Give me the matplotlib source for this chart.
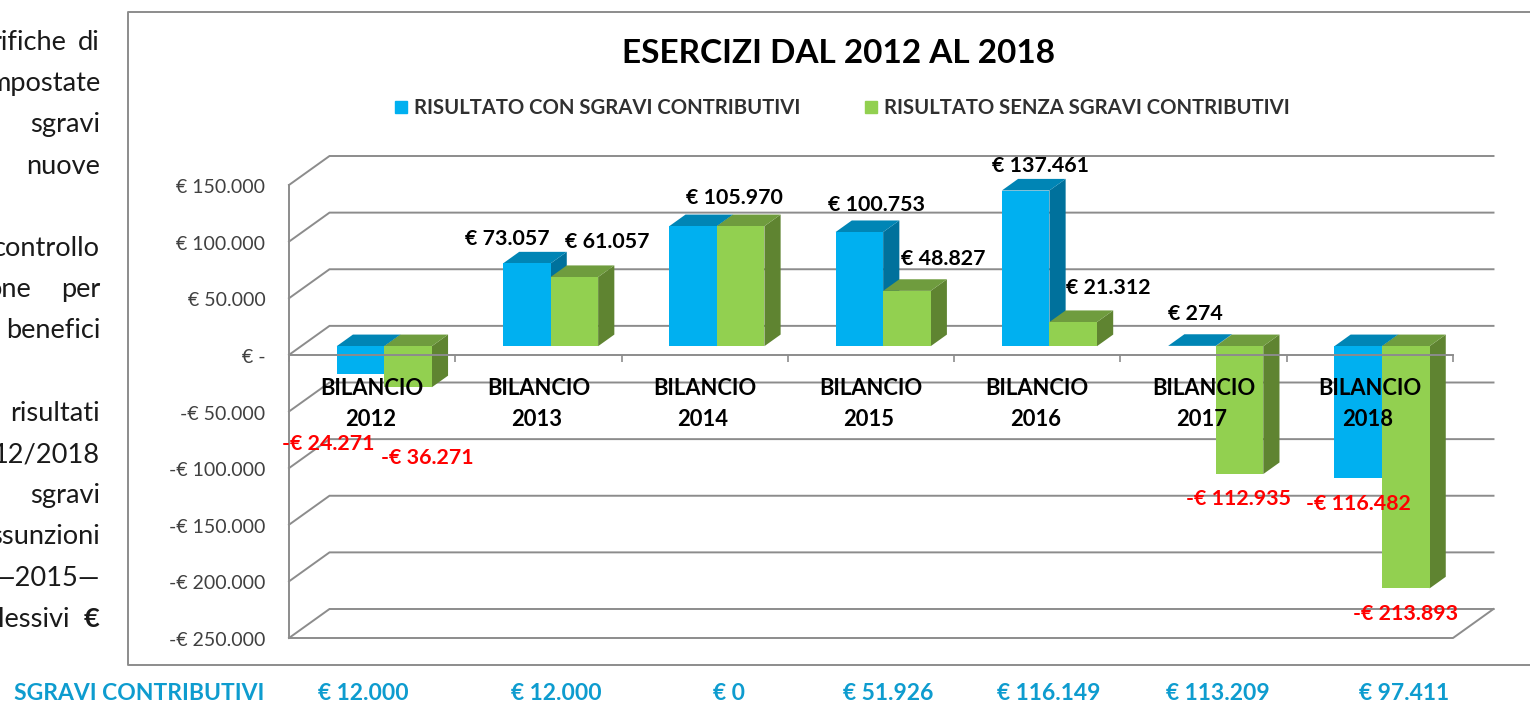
import matplotlib
matplotlib.use('Agg')
import matplotlib.pyplot as plt
from matplotlib.lines import Line2D
from matplotlib.patches import Polygon, Rectangle
from matplotlib.ticker import FuncFormatter
from matplotlib.transforms import ScaledTranslation

plt.rcParams['font.family'] = ['Lato', 'DejaVu Sans']

years = [2012, 2013, 2014, 2015, 2016, 2017, 2018]
con_sgravi = [-24271, 73057, 105970, 100753, 137461, 274, -116482]
senza_sgravi = [-36271, 61057, 105970, 48827, 21312, -112935, -213893]
sgravi = [12000, 12000, 0, 51926, 116149, 113209, 97411]
y_ticks = [150000, 100000, 50000, 0, -50000, -100000, -150000, -200000, -250000]

# testo tagliato a sinistra del grafico: (riga, testo, bordo destro in pixel)
side_text = [(0, 'rifiche', 66), (0, 'di', 100), (1, 'mpostate', 100), (2, 'sgravi', 100), (3, 'nuove', 100),
             (5, 'controllo', 100), (6, 'one', 32), (6, 'per', 100), (7, 'benefici', 100),
             (9, 'risultati', 100), (10, '12/2018', 100), (11, 'sgravi', 100),
             (12, 'ssunzioni', 100), (13, '—2015—', 100), (14, 'lessivi', 69)]

# posizioni (pixel) delle etichette spostate a mano
con_label_px = [(328, 444), (507, 239), (734, 198), (876, 205), (1041, 166), (1195, 314), (1358, 504)]
senza_label_px = [(427, 458), (607, 242), None, (943, 259), (1108, 288), (1239, 499), (1406, 614)]
sgravi_x_px = [363, 556, 729, 888, 1049, 1218, 1404]

W, H = 1530, 703
GRAY = '#8c8c8c'
BLUE = ('#00b0f0', '#0085b5', '#00719c')
GREEN = ('#92d050', '#6f9c3e', '#5f8431')
TEAL = '#0e9ccf'


def fx(x):
    return x / W


def fy(y):
    return 1 - y / H


def euro(v):
    s = f'€ {abs(v):,}'.replace(',', '.')
    return '-' + s if v < 0 else s


def tick_label(v, pos):
    return '€ -' if v == 0 else euro(int(v))


fig = plt.figure(figsize=(W / 100, H / 100), dpi=100)
ax = fig.add_axes([fx(289), fy(638), (1453 - 289) / W, (638 - 185) / H])
ax.set_xlim(0, 7)
ax.set_ylim(-250000, 150000)

# profondita' del pavimento in unita' dati
depth_x = 40.5 / (1164 / 7)
depth_y = 29 / (453 / 400000)

# pareti
for t in y_ticks:
    ax.plot([0, depth_x, 7 + depth_x], [t, t + depth_y, t + depth_y], color=GRAY, lw=1.4,
            zorder=0.5, clip_on=False, solid_joinstyle='miter')
ax.plot([0, 7, 7 + depth_x], [-250000, -250000, -250000 + depth_y], color=GRAY, lw=1.4,
        zorder=0.5, clip_on=False)


def draw_bars(values, left_shift, colors):
    w = 0.286
    for i, v in enumerate(values):
        x0 = i + 0.5 + left_shift + 0.3 * depth_x
        x1 = x0 + w
        bx = 0.4 * depth_x
        by = 0.4 * depth_y
        y0 = 0.3 * depth_y
        top = max(v, 0) + y0
        bot = min(v, 0) + y0
        z = 1 + i * 0.01 + (0.005 if left_shift == 0 else 0)
        ax.add_patch(Polygon([(x1, bot), (x1 + bx, bot + by), (x1 + bx, top + by), (x1, top)],
                             facecolor=colors[2], edgecolor='none', zorder=z, clip_on=False))
        ax.add_patch(Polygon([(x0, top), (x0 + bx, top + by), (x1 + bx, top + by), (x1, top)],
                             facecolor=colors[1], edgecolor='none', zorder=z, clip_on=False))
        ax.bar(x0, v, width=w, bottom=y0, align='edge', color=colors[0], zorder=z, clip_on=False)


draw_bars(con_sgravi, -0.286, BLUE)
draw_bars(senza_sgravi, 0, GREEN)

for side in ['top', 'right']:
    ax.spines[side].set_visible(False)
for side in ['left', 'bottom']:
    ax.spines[side].set_color(GRAY)
    ax.spines[side].set_linewidth(1.4)
    ax.spines[side].set_zorder(3)
ax.spines['bottom'].set_position(('data', 0))
ax.patch.set_alpha(0)

ax.set_yticks(y_ticks)
ax.yaxis.set_major_formatter(FuncFormatter(tick_label))
ax.tick_params(axis='y', length=0, pad=17, labelsize=14, labelcolor='#404040')
down = ScaledTranslation(0, -1 / 100, fig.dpi_scale_trans)
for lab in ax.get_yticklabels():
    lab.set_transform(lab.get_transform() + down)
ax.set_xticks(range(8))
ax.set_xticklabels([])
ax.tick_params(axis='x', length=5, width=1.2, color=GRAY)
ax.set_axisbelow(False)

for i, year in enumerate(years):
    ax.annotate('BILANCIO', (i + 0.5, 0), xytext=(0, -(389 - 355) / 1.39), textcoords='offset points',
                ha='center', va='center', fontsize=15.8, fontweight='bold', color='black', zorder=5)
    ax.annotate(str(year), (i + 0.5, 0), xytext=(-2 / 1.39, -(420 - 355) / 1.39), textcoords='offset points',
                ha='center', va='center', fontsize=15.8, fontweight='bold', color='black', zorder=5)

# etichette dati
for values, positions in [(con_sgravi, con_label_px), (senza_sgravi, senza_label_px)]:
    for v, p in zip(values, positions):
        if p is None:
            continue
        fig.text(fx(p[0]), fy(p[1]), euro(v), ha='center', va='center', fontsize=15.4, fontweight='bold',
                 color='#ff0000' if v < 0 else 'black', zorder=6)

# cornice del grafico
fig.add_artist(Line2D([fx(1535), fx(128), fx(128), fx(1535)], [fy(12), fy(12), fy(665), fy(665)],
                      color=GRAY, lw=1.4))

fig.text(fx(838.5), fy(53.5), 'ESERCIZI DAL 2012 AL 2018', ha='center', va='center', fontsize=24,
         fontweight='bold', color='black')

# legenda
fig.add_artist(Rectangle((fx(395), fy(113)), 12 / W, 12 / H, transform=fig.transFigure, color=BLUE[0]))
fig.add_artist(Rectangle((fx(865), fy(113)), 12 / W, 12 / H, transform=fig.transFigure, color=GREEN[0]))
fig.text(fx(414), fy(108), 'RISULTATO CON SGRAVI CONTRIBUTIVI', ha='left', va='center', fontsize=14.6,
         fontweight='bold', color='#303030')
fig.text(fx(884), fy(108), 'RISULTATO SENZA SGRAVI CONTRIBUTIVI', ha='left', va='center', fontsize=14.6,
         fontweight='bold', color='#303030')

# riga sotto il grafico
fig.text(fx(139), fy(694), 'SGRAVI CONTRIBUTIVI', ha='center', va='center', fontsize=16.5, fontweight='bold',
         color=TEAL)
for x, v in zip(sgravi_x_px, sgravi):
    fig.text(fx(x), fy(694), euro(v), ha='center', va='center', fontsize=16.5, fontweight='bold', color=TEAL)

# testo a sinistra
for n, s, right in side_text:
    fig.text(fx(right), fy(50 + 41.2 * n), s, ha='right', va='baseline', fontsize=19.6, color='#1a1a1a')
fig.text(fx(100), fy(50 + 41.2 * 14), '€', ha='right', va='baseline', fontsize=19.6, fontweight='bold',
         color='#1a1a1a')

fig.savefig('out.png', dpi=100)
